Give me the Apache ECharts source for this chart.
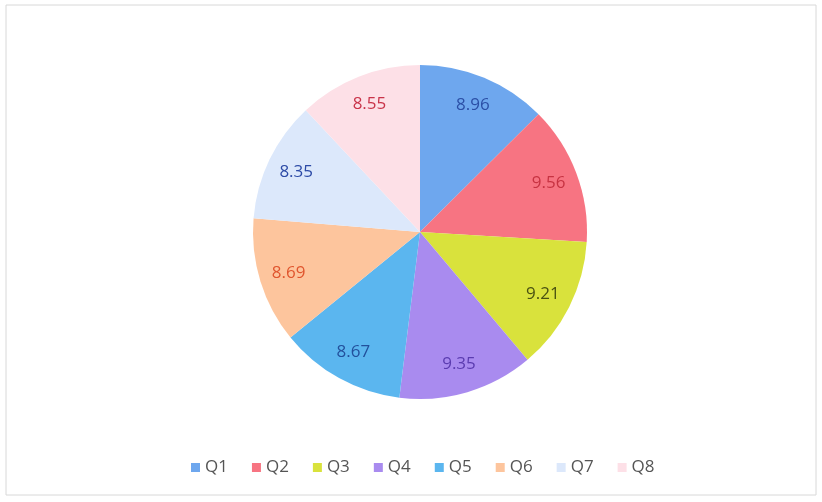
<!DOCTYPE html>
<html><head><meta charset="utf-8">
<script src="https://cdn.jsdelivr.net/npm/echarts@6/dist/echarts.min.js"></script>
<style>html,body{margin:0;padding:0;background:#fff}#c{width:822px;height:502px}</style>
</head><body><div id="c"></div>
<script>
const categories = ['Q1','Q2','Q3','Q4','Q5','Q6','Q7','Q8'];
const values = [8.96, 9.56, 9.21, 9.35, 8.67, 8.69, 8.35, 8.55];
const sliceColors = ['#6ea7ee','#f77482','#d9e23c','#a98bef','#5bb6ef','#fdc59d','#dce8fb','#fde0e7'];
const labelColors = ['#2b4fa6','#c73342','#4a5212','#5b3cb0','#22509c','#e0562e','#2c4aa6','#c93349'];

const chart = echarts.init(document.getElementById('c'));
const mainData = categories.map((n,i)=>({name:n,value:values[i],itemStyle:{color:sliceColors[i]}}));
const labelData = categories.map((n,i)=>({name:n,value:values[i],label:{color:labelColors[i]}}));
chart.setOption({
  animation:false,
  graphic:[{type:'rect',shape:{x:6,y:5,width:810,height:490},style:{fill:'none',stroke:'#d8d8d8',lineWidth:1},silent:true}],
  legend:{
    data:categories, left:186, top:454,
    icon:'rect', itemWidth:9, itemHeight:9, itemGap:24,
    textStyle:{color:'#555',fontSize:17,fontFamily:'Open Sans'}
  },
  series:[
    {type:'pie', center:[420,232], radius:[0,167], startAngle:90, clockwise:true,
     label:{show:false}, labelLine:{show:false}, data:mainData, silent:true,
     itemStyle:{borderWidth:0}},
    {type:'pie', center:[420,232], radius:[102,167], startAngle:90, clockwise:true,
     silent:true, itemStyle:{color:'rgba(0,0,0,0)'},
     label:{show:true, position:'inside', formatter:p=>p.value.toFixed(2), fontSize:17, fontFamily:'Open Sans'},
     labelLine:{show:false}, data:labelData}
  ]
});
</script></body></html>
